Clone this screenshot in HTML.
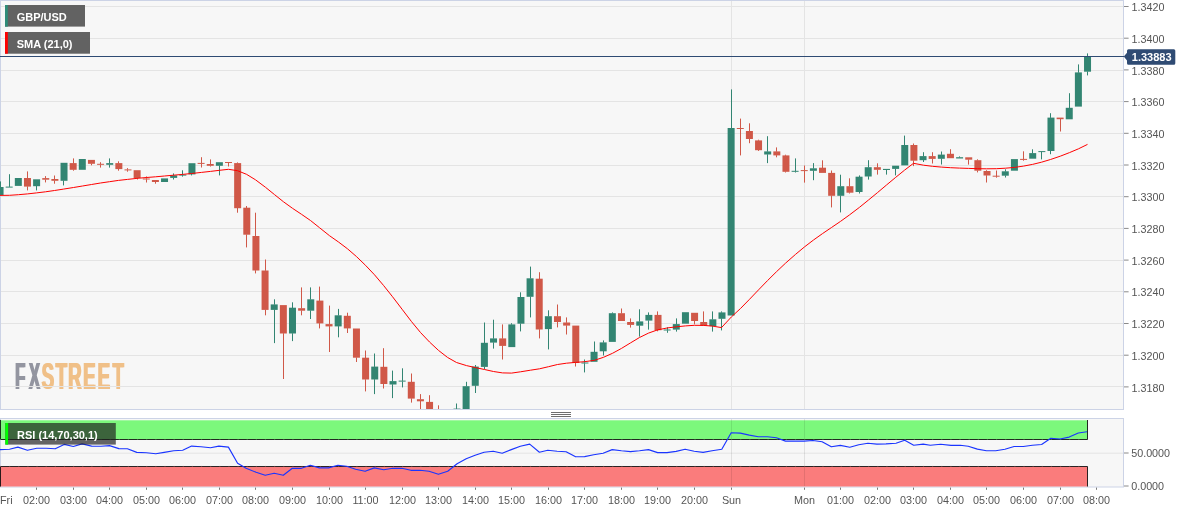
<!DOCTYPE html>
<html lang="en"><head><meta charset="utf-8"><title>GBP/USD chart</title>
<style>html,body{margin:0;padding:0;background:#fff;overflow:hidden}body{width:1194px;height:513px}</style></head>
<body>
<svg width="1194" height="513" viewBox="0 0 1194 513" style="display:block;font-family:'Liberation Sans', Arial, sans-serif">
<defs><clipPath id="cm"><rect x="0" y="1" width="1123" height="408"/></clipPath><clipPath id="cr"><rect x="0" y="419" width="1123" height="68"/></clipPath></defs>
<rect width="1194" height="513" fill="#ffffff"/>
<rect x="0.5" y="0.5" width="1123" height="409" fill="#f7f7f7" stroke="#ccd3e6" stroke-width="1"/>
<g font-weight="bold" font-size="37.8" opacity="0.96"><text transform="translate(-0.62,389.2) scale(0.445,1)" x="33.98 64.87" y="0" fill="#8f929d">FX</text><text transform="translate(0.62,389.2) scale(0.445,1)" x="33.98 64.87" y="0" fill="#8f929d">FX</text><text transform="translate(-0.62,389.2) scale(0.497,1)" x="83.97 112.09 137.08 167.35 196.22 226.37" y="0" fill="#f0be84">STREET</text><text transform="translate(0.62,389.2) scale(0.497,1)" x="83.97 112.09 137.08 167.35 196.22 226.37" y="0" fill="#f0be84">STREET</text></g>
<line x1="1" x2="1123" y1="6.5" y2="6.5" stroke="#e4e4e4" stroke-width="1"/>
<line x1="1" x2="1123" y1="38.5" y2="38.5" stroke="#e4e4e4" stroke-width="1"/>
<line x1="1" x2="1123" y1="70.5" y2="70.5" stroke="#e4e4e4" stroke-width="1"/>
<line x1="1" x2="1123" y1="101.5" y2="101.5" stroke="#e4e4e4" stroke-width="1"/>
<line x1="1" x2="1123" y1="133.5" y2="133.5" stroke="#e4e4e4" stroke-width="1"/>
<line x1="1" x2="1123" y1="165.5" y2="165.5" stroke="#e4e4e4" stroke-width="1"/>
<line x1="1" x2="1123" y1="196.5" y2="196.5" stroke="#e4e4e4" stroke-width="1"/>
<line x1="1" x2="1123" y1="228.5" y2="228.5" stroke="#e4e4e4" stroke-width="1"/>
<line x1="1" x2="1123" y1="260.5" y2="260.5" stroke="#e4e4e4" stroke-width="1"/>
<line x1="1" x2="1123" y1="291.5" y2="291.5" stroke="#e4e4e4" stroke-width="1"/>
<line x1="1" x2="1123" y1="323.5" y2="323.5" stroke="#e4e4e4" stroke-width="1"/>
<line x1="1" x2="1123" y1="355.5" y2="355.5" stroke="#e4e4e4" stroke-width="1"/>
<line x1="1" x2="1123" y1="386.5" y2="386.5" stroke="#e4e4e4" stroke-width="1"/>
<line x1="731.5" x2="731.5" y1="1" y2="409" stroke="#e4e4e4" stroke-width="1"/>
<line x1="804.5" x2="804.5" y1="1" y2="409" stroke="#e4e4e4" stroke-width="1"/>
<g clip-path="url(#cm)">
<rect x="0.0" y="181.4" width="1" height="5.9" fill="#328572"/>
<rect x="-3.45" y="187.0" width="7" height="8.0" fill="#328572"/>
<rect x="9.0" y="174.2" width="1" height="12.7" fill="#328572"/>
<rect x="5.69" y="186.6" width="7" height="1.0" fill="#328572"/>
<rect x="14.83" y="178.0" width="7" height="7.9" fill="#328572"/>
<rect x="27.0" y="171.4" width="1" height="6.9" fill="#d05848"/>
<rect x="27.0" y="186.3" width="1" height="4.1" fill="#d05848"/>
<rect x="23.97" y="178.0" width="7" height="8.6" fill="#d05848"/>
<rect x="36.0" y="185.9" width="1" height="4.5" fill="#328572"/>
<rect x="33.10" y="179.3" width="7" height="6.9" fill="#328572"/>
<rect x="45.0" y="176.1" width="1" height="2.3" fill="#d05848"/>
<rect x="45.0" y="179.4" width="1" height="3.0" fill="#d05848"/>
<rect x="42.24" y="178.1" width="7" height="1.6" fill="#d05848"/>
<rect x="54.0" y="175.5" width="1" height="3.8" fill="#d05848"/>
<rect x="54.0" y="180.5" width="1" height="3.2" fill="#d05848"/>
<rect x="51.38" y="179.0" width="7" height="1.8" fill="#d05848"/>
<rect x="63.0" y="180.5" width="1" height="4.9" fill="#328572"/>
<rect x="60.52" y="162.8" width="7" height="18.0" fill="#328572"/>
<rect x="73.0" y="158.4" width="1" height="5.0" fill="#d05848"/>
<rect x="73.0" y="169.5" width="1" height="1.2" fill="#d05848"/>
<rect x="69.66" y="163.1" width="7" height="6.7" fill="#d05848"/>
<rect x="78.80" y="159.0" width="7" height="10.8" fill="#328572"/>
<rect x="91.0" y="163.5" width="1" height="1.8" fill="#d05848"/>
<rect x="87.94" y="159.9" width="7" height="3.9" fill="#d05848"/>
<rect x="100.0" y="162.2" width="1" height="1.9" fill="#d05848"/>
<rect x="100.0" y="164.5" width="1" height="3.1" fill="#d05848"/>
<rect x="97.07" y="163.8" width="7" height="1.0" fill="#d05848"/>
<rect x="109.0" y="158.4" width="1" height="5.0" fill="#328572"/>
<rect x="109.0" y="164.5" width="1" height="3.1" fill="#328572"/>
<rect x="106.21" y="163.1" width="7" height="1.7" fill="#328572"/>
<rect x="118.0" y="161.3" width="1" height="2.1" fill="#d05848"/>
<rect x="118.0" y="168.8" width="1" height="1.9" fill="#d05848"/>
<rect x="115.35" y="163.1" width="7" height="6.0" fill="#d05848"/>
<rect x="127.0" y="168.1" width="1" height="1.6" fill="#d05848"/>
<rect x="127.0" y="170.1" width="1" height="1.6" fill="#d05848"/>
<rect x="124.49" y="169.4" width="7" height="1.0" fill="#d05848"/>
<rect x="137.0" y="177.7" width="1" height="1.8" fill="#d05848"/>
<rect x="133.63" y="170.2" width="7" height="7.8" fill="#d05848"/>
<rect x="146.0" y="176.4" width="1" height="2.4" fill="#d05848"/>
<rect x="146.0" y="179.2" width="1" height="3.3" fill="#d05848"/>
<rect x="142.77" y="178.5" width="7" height="1.0" fill="#d05848"/>
<rect x="155.0" y="181.7" width="1" height="2.0" fill="#d05848"/>
<rect x="151.90" y="180.0" width="7" height="2.0" fill="#d05848"/>
<rect x="161.04" y="178.4" width="7" height="3.6" fill="#328572"/>
<rect x="173.0" y="173.4" width="1" height="2.3" fill="#328572"/>
<rect x="173.0" y="177.6" width="1" height="1.9" fill="#328572"/>
<rect x="170.18" y="175.4" width="7" height="2.5" fill="#328572"/>
<rect x="182.0" y="170.3" width="1" height="4.6" fill="#328572"/>
<rect x="182.0" y="175.2" width="1" height="1.4" fill="#328572"/>
<rect x="179.32" y="174.6" width="7" height="1.0" fill="#328572"/>
<rect x="191.0" y="174.1" width="1" height="1.3" fill="#328572"/>
<rect x="188.46" y="163.2" width="7" height="11.2" fill="#328572"/>
<rect x="201.0" y="157.2" width="1" height="6.0" fill="#d05848"/>
<rect x="201.0" y="163.6" width="1" height="3.9" fill="#d05848"/>
<rect x="197.60" y="162.9" width="7" height="1.0" fill="#d05848"/>
<rect x="210.0" y="159.4" width="1" height="4.9" fill="#d05848"/>
<rect x="210.0" y="165.5" width="1" height="1.0" fill="#d05848"/>
<rect x="206.74" y="164.0" width="7" height="1.8" fill="#d05848"/>
<rect x="219.0" y="165.5" width="1" height="9.9" fill="#328572"/>
<rect x="215.87" y="162.2" width="7" height="3.6" fill="#328572"/>
<rect x="228.0" y="162.7" width="1" height="3.8" fill="#d05848"/>
<rect x="225.01" y="162.0" width="7" height="1.0" fill="#d05848"/>
<rect x="237.0" y="162.4" width="1" height="1.0" fill="#d05848"/>
<rect x="237.0" y="207.9" width="1" height="4.8" fill="#d05848"/>
<rect x="234.15" y="163.1" width="7" height="45.1" fill="#d05848"/>
<rect x="246.0" y="206.0" width="1" height="2.0" fill="#d05848"/>
<rect x="246.0" y="234.4" width="1" height="13.0" fill="#d05848"/>
<rect x="243.29" y="207.7" width="7" height="27.0" fill="#d05848"/>
<rect x="255.0" y="212.7" width="1" height="23.6" fill="#d05848"/>
<rect x="255.0" y="270.2" width="1" height="3.2" fill="#d05848"/>
<rect x="252.43" y="236.0" width="7" height="34.5" fill="#d05848"/>
<rect x="265.0" y="259.5" width="1" height="11.3" fill="#d05848"/>
<rect x="265.0" y="309.6" width="1" height="5.7" fill="#d05848"/>
<rect x="261.57" y="270.5" width="7" height="39.4" fill="#d05848"/>
<rect x="274.0" y="299.3" width="1" height="5.4" fill="#328572"/>
<rect x="274.0" y="309.6" width="1" height="33.5" fill="#328572"/>
<rect x="270.71" y="304.4" width="7" height="5.5" fill="#328572"/>
<rect x="283.0" y="333.2" width="1" height="45.8" fill="#d05848"/>
<rect x="279.84" y="305.1" width="7" height="28.4" fill="#d05848"/>
<rect x="292.0" y="302.3" width="1" height="5.7" fill="#328572"/>
<rect x="292.0" y="333.2" width="1" height="7.9" fill="#328572"/>
<rect x="288.98" y="307.7" width="7" height="25.8" fill="#328572"/>
<rect x="301.0" y="287.4" width="1" height="21.1" fill="#d05848"/>
<rect x="301.0" y="310.4" width="1" height="4.9" fill="#d05848"/>
<rect x="298.12" y="308.2" width="7" height="2.5" fill="#d05848"/>
<rect x="310.0" y="287.4" width="1" height="12.2" fill="#328572"/>
<rect x="310.0" y="310.4" width="1" height="8.6" fill="#328572"/>
<rect x="307.26" y="299.3" width="7" height="11.4" fill="#328572"/>
<rect x="319.0" y="286.6" width="1" height="14.3" fill="#d05848"/>
<rect x="319.0" y="323.1" width="1" height="5.3" fill="#d05848"/>
<rect x="316.40" y="300.6" width="7" height="22.8" fill="#d05848"/>
<rect x="329.0" y="305.6" width="1" height="18.8" fill="#d05848"/>
<rect x="329.0" y="326.1" width="1" height="25.9" fill="#d05848"/>
<rect x="325.54" y="324.1" width="7" height="2.3" fill="#d05848"/>
<rect x="338.0" y="308.9" width="1" height="6.7" fill="#328572"/>
<rect x="338.0" y="326.1" width="1" height="11.2" fill="#328572"/>
<rect x="334.67" y="315.3" width="7" height="11.1" fill="#328572"/>
<rect x="347.0" y="312.7" width="1" height="3.4" fill="#d05848"/>
<rect x="347.0" y="328.1" width="1" height="4.9" fill="#d05848"/>
<rect x="343.81" y="315.8" width="7" height="12.6" fill="#d05848"/>
<rect x="356.0" y="357.4" width="1" height="4.6" fill="#d05848"/>
<rect x="352.95" y="328.5" width="7" height="29.2" fill="#d05848"/>
<rect x="365.0" y="350.5" width="1" height="7.5" fill="#d05848"/>
<rect x="365.0" y="379.2" width="1" height="12.2" fill="#d05848"/>
<rect x="362.09" y="357.7" width="7" height="21.8" fill="#d05848"/>
<rect x="374.0" y="353.5" width="1" height="13.4" fill="#328572"/>
<rect x="374.0" y="379.2" width="1" height="14.9" fill="#328572"/>
<rect x="371.23" y="366.6" width="7" height="12.9" fill="#328572"/>
<rect x="383.0" y="348.2" width="1" height="18.9" fill="#d05848"/>
<rect x="383.0" y="383.7" width="1" height="4.8" fill="#d05848"/>
<rect x="380.37" y="366.8" width="7" height="17.2" fill="#d05848"/>
<rect x="392.0" y="370.6" width="1" height="10.8" fill="#328572"/>
<rect x="392.0" y="384.2" width="1" height="13.9" fill="#328572"/>
<rect x="389.51" y="381.1" width="7" height="3.4" fill="#328572"/>
<rect x="402.0" y="368.3" width="1" height="12.6" fill="#328572"/>
<rect x="402.0" y="381.3" width="1" height="6.1" fill="#328572"/>
<rect x="398.64" y="380.6" width="7" height="1.0" fill="#328572"/>
<rect x="411.0" y="373.5" width="1" height="8.6" fill="#d05848"/>
<rect x="411.0" y="398.3" width="1" height="4.3" fill="#d05848"/>
<rect x="407.78" y="381.8" width="7" height="16.8" fill="#d05848"/>
<rect x="420.0" y="394.1" width="1" height="5.4" fill="#d05848"/>
<rect x="420.0" y="401.0" width="1" height="13.0" fill="#d05848"/>
<rect x="416.92" y="399.2" width="7" height="2.1" fill="#d05848"/>
<rect x="429.0" y="395.2" width="1" height="7.0" fill="#d05848"/>
<rect x="426.06" y="401.9" width="7" height="18.1" fill="#d05848"/>
<rect x="438.0" y="405.3" width="1" height="6.0" fill="#d05848"/>
<rect x="435.20" y="411.0" width="7" height="9.0" fill="#d05848"/>
<rect x="456.0" y="403.5" width="1" height="5.4" fill="#328572"/>
<rect x="453.48" y="408.6" width="7" height="6.4" fill="#328572"/>
<rect x="466.0" y="381.8" width="1" height="4.7" fill="#328572"/>
<rect x="462.61" y="386.2" width="7" height="25.8" fill="#328572"/>
<rect x="475.0" y="365.0" width="1" height="1.9" fill="#328572"/>
<rect x="475.0" y="385.5" width="1" height="7.5" fill="#328572"/>
<rect x="471.75" y="366.6" width="7" height="19.2" fill="#328572"/>
<rect x="484.0" y="322.5" width="1" height="20.6" fill="#328572"/>
<rect x="484.0" y="366.6" width="1" height="2.6" fill="#328572"/>
<rect x="480.89" y="342.8" width="7" height="24.1" fill="#328572"/>
<rect x="493.0" y="319.7" width="1" height="19.0" fill="#328572"/>
<rect x="493.0" y="342.3" width="1" height="6.3" fill="#328572"/>
<rect x="490.03" y="338.4" width="7" height="4.2" fill="#328572"/>
<rect x="502.0" y="324.4" width="1" height="14.3" fill="#d05848"/>
<rect x="502.0" y="345.6" width="1" height="13.9" fill="#d05848"/>
<rect x="499.17" y="338.4" width="7" height="7.5" fill="#d05848"/>
<rect x="511.0" y="323.2" width="1" height="1.5" fill="#328572"/>
<rect x="508.31" y="324.4" width="7" height="22.7" fill="#328572"/>
<rect x="520.0" y="292.3" width="1" height="5.0" fill="#328572"/>
<rect x="520.0" y="323.4" width="1" height="8.0" fill="#328572"/>
<rect x="517.44" y="297.0" width="7" height="26.7" fill="#328572"/>
<rect x="530.0" y="266.6" width="1" height="12.0" fill="#328572"/>
<rect x="530.0" y="296.5" width="1" height="20.9" fill="#328572"/>
<rect x="526.58" y="278.3" width="7" height="18.5" fill="#328572"/>
<rect x="539.0" y="272.2" width="1" height="6.8" fill="#d05848"/>
<rect x="539.0" y="329.2" width="1" height="9.2" fill="#d05848"/>
<rect x="535.72" y="278.7" width="7" height="50.8" fill="#d05848"/>
<rect x="548.0" y="310.3" width="1" height="6.2" fill="#328572"/>
<rect x="548.0" y="328.8" width="1" height="20.6" fill="#328572"/>
<rect x="544.86" y="316.2" width="7" height="12.9" fill="#328572"/>
<rect x="557.0" y="304.5" width="1" height="12.0" fill="#d05848"/>
<rect x="557.0" y="321.7" width="1" height="5.7" fill="#d05848"/>
<rect x="554.00" y="316.2" width="7" height="5.8" fill="#d05848"/>
<rect x="566.0" y="317.4" width="1" height="5.4" fill="#d05848"/>
<rect x="566.0" y="325.3" width="1" height="9.2" fill="#d05848"/>
<rect x="563.14" y="322.5" width="7" height="3.1" fill="#d05848"/>
<rect x="575.0" y="362.7" width="1" height="3.8" fill="#d05848"/>
<rect x="572.28" y="325.6" width="7" height="37.4" fill="#d05848"/>
<rect x="584.0" y="359.5" width="1" height="3.3" fill="#328572"/>
<rect x="584.0" y="363.2" width="1" height="9.2" fill="#328572"/>
<rect x="581.41" y="362.5" width="7" height="1.0" fill="#328572"/>
<rect x="594.0" y="341.5" width="1" height="10.6" fill="#328572"/>
<rect x="590.55" y="351.8" width="7" height="10.0" fill="#328572"/>
<rect x="603.0" y="340.4" width="1" height="2.3" fill="#328572"/>
<rect x="603.0" y="351.0" width="1" height="4.5" fill="#328572"/>
<rect x="599.69" y="342.4" width="7" height="8.9" fill="#328572"/>
<rect x="612.0" y="312.4" width="1" height="1.1" fill="#328572"/>
<rect x="608.83" y="313.2" width="7" height="28.7" fill="#328572"/>
<rect x="621.0" y="308.5" width="1" height="5.0" fill="#d05848"/>
<rect x="617.97" y="313.2" width="7" height="7.8" fill="#d05848"/>
<rect x="630.0" y="318.4" width="1" height="3.9" fill="#d05848"/>
<rect x="630.0" y="324.6" width="1" height="3.0" fill="#d05848"/>
<rect x="627.11" y="322.0" width="7" height="2.9" fill="#d05848"/>
<rect x="639.0" y="309.3" width="1" height="12.4" fill="#328572"/>
<rect x="639.0" y="325.4" width="1" height="11.2" fill="#328572"/>
<rect x="636.25" y="321.4" width="7" height="4.3" fill="#328572"/>
<rect x="648.0" y="312.4" width="1" height="2.8" fill="#328572"/>
<rect x="648.0" y="320.3" width="1" height="9.3" fill="#328572"/>
<rect x="645.38" y="314.9" width="7" height="5.7" fill="#328572"/>
<rect x="657.0" y="311.4" width="1" height="3.8" fill="#d05848"/>
<rect x="657.0" y="329.9" width="1" height="1.4" fill="#d05848"/>
<rect x="654.52" y="314.9" width="7" height="15.3" fill="#d05848"/>
<rect x="667.0" y="327.2" width="1" height="2.6" fill="#328572"/>
<rect x="667.0" y="330.2" width="1" height="2.6" fill="#328572"/>
<rect x="663.66" y="329.5" width="7" height="1.0" fill="#328572"/>
<rect x="676.0" y="318.4" width="1" height="6.0" fill="#328572"/>
<rect x="676.0" y="329.3" width="1" height="2.3" fill="#328572"/>
<rect x="672.80" y="324.1" width="7" height="5.5" fill="#328572"/>
<rect x="681.94" y="312.2" width="7" height="11.5" fill="#328572"/>
<rect x="694.0" y="320.7" width="1" height="3.6" fill="#d05848"/>
<rect x="691.08" y="312.8" width="7" height="8.2" fill="#d05848"/>
<rect x="703.0" y="311.4" width="1" height="10.9" fill="#d05848"/>
<rect x="700.21" y="322.0" width="7" height="3.7" fill="#d05848"/>
<rect x="712.0" y="311.4" width="1" height="8.2" fill="#328572"/>
<rect x="712.0" y="325.8" width="1" height="5.8" fill="#328572"/>
<rect x="709.35" y="319.3" width="7" height="6.8" fill="#328572"/>
<rect x="721.0" y="311.4" width="1" height="1.3" fill="#328572"/>
<rect x="721.0" y="318.5" width="1" height="11.9" fill="#328572"/>
<rect x="718.49" y="312.4" width="7" height="6.4" fill="#328572"/>
<rect x="731.0" y="89.4" width="1" height="38.9" fill="#328572"/>
<rect x="727.63" y="128.0" width="7" height="187.5" fill="#328572"/>
<rect x="740.0" y="118.6" width="1" height="9.7" fill="#d05848"/>
<rect x="740.0" y="128.7" width="1" height="26.7" fill="#d05848"/>
<rect x="736.77" y="128.0" width="7" height="1.0" fill="#d05848"/>
<rect x="749.0" y="123.3" width="1" height="8.0" fill="#d05848"/>
<rect x="749.0" y="138.7" width="1" height="4.5" fill="#d05848"/>
<rect x="745.91" y="131.0" width="7" height="8.0" fill="#d05848"/>
<rect x="758.0" y="139.7" width="1" height="1.0" fill="#d05848"/>
<rect x="758.0" y="149.9" width="1" height="1.0" fill="#d05848"/>
<rect x="755.05" y="140.4" width="7" height="9.8" fill="#d05848"/>
<rect x="767.0" y="136.2" width="1" height="15.5" fill="#328572"/>
<rect x="767.0" y="154.2" width="1" height="8.9" fill="#328572"/>
<rect x="764.18" y="151.4" width="7" height="3.1" fill="#328572"/>
<rect x="776.0" y="147.4" width="1" height="4.3" fill="#d05848"/>
<rect x="776.0" y="155.1" width="1" height="2.2" fill="#d05848"/>
<rect x="773.32" y="151.4" width="7" height="4.0" fill="#d05848"/>
<rect x="785.0" y="154.7" width="1" height="1.0" fill="#d05848"/>
<rect x="785.0" y="171.5" width="1" height="1.0" fill="#d05848"/>
<rect x="782.46" y="155.4" width="7" height="16.4" fill="#d05848"/>
<rect x="795.0" y="158.4" width="1" height="12.7" fill="#328572"/>
<rect x="795.0" y="171.5" width="1" height="1.0" fill="#328572"/>
<rect x="791.60" y="170.8" width="7" height="1.0" fill="#328572"/>
<rect x="804.0" y="165.5" width="1" height="4.9" fill="#d05848"/>
<rect x="804.0" y="170.8" width="1" height="11.8" fill="#d05848"/>
<rect x="800.74" y="170.1" width="7" height="1.0" fill="#d05848"/>
<rect x="813.0" y="163.1" width="1" height="5.5" fill="#328572"/>
<rect x="813.0" y="170.5" width="1" height="9.7" fill="#328572"/>
<rect x="809.88" y="168.3" width="7" height="2.5" fill="#328572"/>
<rect x="822.0" y="160.3" width="1" height="7.7" fill="#d05848"/>
<rect x="819.01" y="167.7" width="7" height="5.2" fill="#d05848"/>
<rect x="831.0" y="170.5" width="1" height="2.7" fill="#d05848"/>
<rect x="831.0" y="195.5" width="1" height="11.9" fill="#d05848"/>
<rect x="828.15" y="172.9" width="7" height="22.9" fill="#d05848"/>
<rect x="840.0" y="174.7" width="1" height="11.8" fill="#328572"/>
<rect x="840.0" y="195.5" width="1" height="16.9" fill="#328572"/>
<rect x="837.29" y="186.2" width="7" height="9.6" fill="#328572"/>
<rect x="849.0" y="178.3" width="1" height="8.2" fill="#d05848"/>
<rect x="849.0" y="192.4" width="1" height="1.1" fill="#d05848"/>
<rect x="846.43" y="186.2" width="7" height="6.5" fill="#d05848"/>
<rect x="859.0" y="175.4" width="1" height="1.6" fill="#328572"/>
<rect x="859.0" y="191.7" width="1" height="1.8" fill="#328572"/>
<rect x="855.57" y="176.7" width="7" height="15.3" fill="#328572"/>
<rect x="868.0" y="160.2" width="1" height="7.3" fill="#328572"/>
<rect x="868.0" y="176.2" width="1" height="3.4" fill="#328572"/>
<rect x="864.71" y="167.2" width="7" height="9.3" fill="#328572"/>
<rect x="877.0" y="163.3" width="1" height="4.2" fill="#d05848"/>
<rect x="877.0" y="169.5" width="1" height="5.1" fill="#d05848"/>
<rect x="873.85" y="167.2" width="7" height="2.6" fill="#d05848"/>
<rect x="886.0" y="169.7" width="1" height="4.9" fill="#328572"/>
<rect x="882.98" y="168.9" width="7" height="1.1" fill="#328572"/>
<rect x="895.0" y="168.6" width="1" height="6.8" fill="#328572"/>
<rect x="892.12" y="165.7" width="7" height="3.2" fill="#328572"/>
<rect x="904.0" y="135.6" width="1" height="9.7" fill="#328572"/>
<rect x="901.26" y="145.0" width="7" height="20.4" fill="#328572"/>
<rect x="913.0" y="143.5" width="1" height="1.8" fill="#d05848"/>
<rect x="913.0" y="160.4" width="1" height="5.7" fill="#d05848"/>
<rect x="910.40" y="145.0" width="7" height="15.7" fill="#d05848"/>
<rect x="923.0" y="152.2" width="1" height="4.2" fill="#328572"/>
<rect x="923.0" y="159.9" width="1" height="2.1" fill="#328572"/>
<rect x="919.54" y="156.1" width="7" height="4.1" fill="#328572"/>
<rect x="932.0" y="152.2" width="1" height="4.2" fill="#d05848"/>
<rect x="932.0" y="158.6" width="1" height="4.9" fill="#d05848"/>
<rect x="928.68" y="156.1" width="7" height="2.8" fill="#d05848"/>
<rect x="941.0" y="151.5" width="1" height="3.4" fill="#328572"/>
<rect x="941.0" y="158.5" width="1" height="6.0" fill="#328572"/>
<rect x="937.82" y="154.6" width="7" height="4.2" fill="#328572"/>
<rect x="950.0" y="149.2" width="1" height="4.9" fill="#d05848"/>
<rect x="946.95" y="153.8" width="7" height="4.4" fill="#d05848"/>
<rect x="959.0" y="156.4" width="1" height="1.1" fill="#328572"/>
<rect x="956.09" y="157.2" width="7" height="1.3" fill="#328572"/>
<rect x="968.0" y="159.4" width="1" height="5.2" fill="#d05848"/>
<rect x="965.23" y="157.3" width="7" height="2.4" fill="#d05848"/>
<rect x="977.0" y="159.3" width="1" height="1.2" fill="#d05848"/>
<rect x="977.0" y="170.4" width="1" height="2.0" fill="#d05848"/>
<rect x="974.37" y="160.2" width="7" height="10.5" fill="#d05848"/>
<rect x="986.0" y="170.2" width="1" height="1.1" fill="#d05848"/>
<rect x="986.0" y="175.2" width="1" height="7.3" fill="#d05848"/>
<rect x="983.51" y="171.0" width="7" height="4.5" fill="#d05848"/>
<rect x="996.0" y="170.5" width="1" height="5.5" fill="#d05848"/>
<rect x="996.0" y="176.2" width="1" height="1.5" fill="#d05848"/>
<rect x="992.65" y="175.7" width="7" height="1.0" fill="#d05848"/>
<rect x="1005.0" y="169.3" width="1" height="2.3" fill="#328572"/>
<rect x="1005.0" y="175.4" width="1" height="2.1" fill="#328572"/>
<rect x="1001.78" y="171.3" width="7" height="4.4" fill="#328572"/>
<rect x="1010.92" y="159.1" width="7" height="11.6" fill="#328572"/>
<rect x="1023.0" y="151.3" width="1" height="7.9" fill="#d05848"/>
<rect x="1023.0" y="159.5" width="1" height="1.2" fill="#d05848"/>
<rect x="1020.06" y="158.9" width="7" height="1.0" fill="#d05848"/>
<rect x="1032.0" y="149.3" width="1" height="4.1" fill="#328572"/>
<rect x="1029.20" y="153.1" width="7" height="5.6" fill="#328572"/>
<rect x="1041.0" y="151.7" width="1" height="7.7" fill="#328572"/>
<rect x="1038.34" y="151.1" width="7" height="1.0" fill="#328572"/>
<rect x="1050.0" y="113.2" width="1" height="4.7" fill="#328572"/>
<rect x="1050.0" y="150.7" width="1" height="3.5" fill="#328572"/>
<rect x="1047.48" y="117.6" width="7" height="33.4" fill="#328572"/>
<rect x="1060.0" y="118.9" width="1" height="12.6" fill="#d05848"/>
<rect x="1056.62" y="117.6" width="7" height="1.6" fill="#d05848"/>
<rect x="1069.0" y="93.2" width="1" height="14.9" fill="#328572"/>
<rect x="1065.75" y="107.8" width="7" height="11.5" fill="#328572"/>
<rect x="1078.0" y="64.4" width="1" height="8.3" fill="#328572"/>
<rect x="1074.89" y="72.4" width="7" height="34.2" fill="#328572"/>
<rect x="1087.0" y="53.4" width="1" height="3.5" fill="#328572"/>
<rect x="1087.0" y="71.4" width="1" height="4.0" fill="#328572"/>
<rect x="1084.03" y="56.6" width="7" height="15.1" fill="#328572"/>
<polyline points="0.0,195.4 9.5,195.3 18.5,194.7 27.5,193.9 36.5,192.9 45.5,191.8 54.5,190.5 63.5,189.1 73.5,187.5 82.5,186.0 91.5,184.5 100.5,183.0 109.5,181.7 118.5,180.4 127.5,179.4 137.5,178.3 146.5,177.5 155.5,176.8 164.5,176.0 173.5,175.2 182.5,174.4 191.5,173.5 201.5,172.4 210.5,171.4 219.5,170.3 228.5,169.3 237.5,170.7 246.5,174.3 255.5,179.8 265.5,187.3 274.5,194.6 283.5,201.8 292.5,208.3 301.5,214.3 310.5,220.5 319.5,227.7 329.5,235.7 338.5,242.0 347.5,248.8 356.5,256.6 365.5,265.3 374.5,274.8 383.5,285.4 392.5,296.7 402.5,309.8 411.5,321.6 420.5,332.5 429.5,342.0 438.5,350.4 447.5,357.4 456.5,362.5 466.5,365.6 475.5,367.6 484.5,369.5 493.5,371.5 502.5,372.9 511.5,373.1 520.5,371.8 530.5,370.2 539.5,368.8 548.5,366.7 557.5,364.5 566.5,363.2 575.5,362.4 584.5,361.7 594.5,360.3 603.5,357.3 612.5,353.3 621.5,348.4 630.5,342.9 639.5,337.5 648.5,333.1 657.5,329.9 667.5,327.9 676.5,326.8 685.5,325.9 694.5,325.3 703.5,325.4 712.5,326.1 721.5,327.6 731.5,316.8 740.5,308.5 749.5,299.3 758.5,289.9 767.5,280.6 776.5,271.7 785.5,263.2 795.5,254.4 804.5,246.9 813.5,240.0 822.5,233.6 831.5,227.5 840.5,221.4 849.5,214.9 859.5,207.3 868.5,200.0 877.5,192.6 886.5,185.0 895.5,177.5 904.5,170.2 913.5,163.3 923.5,165.2 932.5,166.3 941.5,167.1 950.5,167.7 959.5,168.1 968.5,168.4 977.5,168.7 986.5,168.8 996.5,168.7 1005.5,168.2 1014.5,167.4 1023.5,166.1 1032.5,164.4 1041.5,162.2 1050.5,159.5 1060.5,156.1 1069.5,152.6 1078.5,148.8 1087.5,144.4" fill="none" stroke="#ff0000" stroke-width="1" stroke-linejoin="round"/>
</g>
<line x1="0" x2="1124" y1="56.5" y2="56.5" stroke="#2f4b73" stroke-width="1"/>
<rect x="5" y="5" width="80" height="21.6" fill="#5a5a5a" fill-opacity="0.95"/>
<rect x="5" y="5" width="2.8" height="21.6" fill="#2f8c78"/>
<text x="16.7" y="20.6" font-size="11" font-weight="bold" fill="#ffffff">GBP/USD</text>
<rect x="5" y="32" width="85" height="21.7" fill="#5a5a5a" fill-opacity="0.95"/>
<rect x="5" y="32" width="2.8" height="21.7" fill="#ff0000"/>
<text x="16.7" y="47.6" font-size="11" font-weight="bold" fill="#ffffff">SMA (21,0)</text>
<line x1="1124" x2="1128.6" y1="6.5" y2="6.5" stroke="#8a8a8a" stroke-width="1"/>
<text x="1131.6" y="11.1" font-size="10.75" fill="#555555">1.3420</text>
<line x1="1124" x2="1128.6" y1="38.2" y2="38.2" stroke="#8a8a8a" stroke-width="1"/>
<text x="1131.6" y="42.8" font-size="10.75" fill="#555555">1.3400</text>
<line x1="1124" x2="1128.6" y1="69.9" y2="69.9" stroke="#8a8a8a" stroke-width="1"/>
<text x="1131.6" y="74.5" font-size="10.75" fill="#555555">1.3380</text>
<line x1="1124" x2="1128.6" y1="101.6" y2="101.6" stroke="#8a8a8a" stroke-width="1"/>
<text x="1131.6" y="106.2" font-size="10.75" fill="#555555">1.3360</text>
<line x1="1124" x2="1128.6" y1="133.3" y2="133.3" stroke="#8a8a8a" stroke-width="1"/>
<text x="1131.6" y="137.9" font-size="10.75" fill="#555555">1.3340</text>
<line x1="1124" x2="1128.6" y1="165.0" y2="165.0" stroke="#8a8a8a" stroke-width="1"/>
<text x="1131.6" y="169.6" font-size="10.75" fill="#555555">1.3320</text>
<line x1="1124" x2="1128.6" y1="196.7" y2="196.7" stroke="#8a8a8a" stroke-width="1"/>
<text x="1131.6" y="201.3" font-size="10.75" fill="#555555">1.3300</text>
<line x1="1124" x2="1128.6" y1="228.4" y2="228.4" stroke="#8a8a8a" stroke-width="1"/>
<text x="1131.6" y="233.0" font-size="10.75" fill="#555555">1.3280</text>
<line x1="1124" x2="1128.6" y1="260.1" y2="260.1" stroke="#8a8a8a" stroke-width="1"/>
<text x="1131.6" y="264.7" font-size="10.75" fill="#555555">1.3260</text>
<line x1="1124" x2="1128.6" y1="291.8" y2="291.8" stroke="#8a8a8a" stroke-width="1"/>
<text x="1131.6" y="296.4" font-size="10.75" fill="#555555">1.3240</text>
<line x1="1124" x2="1128.6" y1="323.5" y2="323.5" stroke="#8a8a8a" stroke-width="1"/>
<text x="1131.6" y="328.1" font-size="10.75" fill="#555555">1.3220</text>
<line x1="1124" x2="1128.6" y1="355.2" y2="355.2" stroke="#8a8a8a" stroke-width="1"/>
<text x="1131.6" y="359.8" font-size="10.75" fill="#555555">1.3200</text>
<line x1="1124" x2="1128.6" y1="386.9" y2="386.9" stroke="#8a8a8a" stroke-width="1"/>
<text x="1131.6" y="391.5" font-size="10.75" fill="#555555">1.3180</text>
<path d="M1123.8 56.6 L1127 52.8 L1127 50.8 Q1127 49.3 1128.5 49.3 L1173.8 49.3 Q1175.3 49.3 1175.3 50.8 L1175.3 63.2 Q1175.3 64.7 1173.8 64.7 L1128.5 64.7 Q1127 64.7 1127 63.2 L1127 60.4 Z" fill="#2f4b73"/>
<text x="1131.8" y="60.6" font-size="11" font-weight="bold" fill="#ffffff">1.33883</text>
<line x1="551" x2="571" y1="412.5" y2="412.5" stroke="#6e6e6e" stroke-width="1"/>
<line x1="551" x2="571" y1="414.5" y2="414.5" stroke="#6e6e6e" stroke-width="1"/>
<line x1="551" x2="571" y1="416.5" y2="416.5" stroke="#6e6e6e" stroke-width="1"/>
<rect x="0.5" y="418.5" width="1123" height="68.5" fill="#f7f7f7" stroke="#ccd3e6" stroke-width="1"/>
<line x1="1" x2="1123" y1="453.2" y2="453.2" stroke="#e4e4e4" stroke-width="1"/>
<rect x="0" y="420.3" width="1087.5" height="19.2" fill="#7cf87c"/>
<rect x="0" y="466.6" width="1087.5" height="19.9" fill="#fa7c7c"/>
<line x1="731.5" x2="731.5" y1="419" y2="486" stroke="#000" stroke-opacity="0.09" stroke-width="1"/>
<line x1="804.5" x2="804.5" y1="419" y2="486" stroke="#000" stroke-opacity="0.09" stroke-width="1"/>
<path d="M0.5 420 V439.5 H1087.5 V420" fill="none" stroke="#0c0c0c" stroke-width="0.88"/>
<path d="M0.5 486.5 V466.5 H1087.5 V486.5" fill="none" stroke="#0c0c0c" stroke-width="0.88"/>
<line x1="-0.1" x2="1087" y1="439.3" y2="439.3" stroke="#7cf87c" stroke-opacity="0.5" stroke-width="0.7" stroke-dasharray="1.2 7.9385"/>
<line x1="-0.1" x2="1087" y1="466.3" y2="466.3" stroke="#fa7c7c" stroke-opacity="0.5" stroke-width="0.7" stroke-dasharray="1.2 7.9385"/>
<polyline points="0.0,449.6 9.5,449.2 17.9,447.1 27.4,450.3 36.8,448.2 46.3,448.2 55.2,448.8 64.2,444.4 73.3,446.5 82.1,443.9 91.6,446.1 101.0,446.3 109.5,445.6 118.9,448.6 127.4,448.8 136.8,452.4 146.3,452.8 155.8,453.8 164.2,452.4 173.7,450.7 182.7,450.3 191.6,446.1 201.0,446.7 210.5,447.7 218.9,446.1 228.4,447.1 237.6,463.2 246.1,468.3 256.1,472.3 265.2,475.3 274.2,473.3 283.3,475.3 292.3,468.3 301.4,468.3 310.4,465.3 319.4,467.9 328.5,467.9 337.9,465.3 346.6,466.3 355.6,469.3 365.1,471.3 374.3,467.9 383.8,469.7 392.8,468.3 401.9,468.3 410.9,470.3 419.9,470.3 429.0,471.3 438.4,474.3 447.7,471.3 457.1,463.8 466.2,458.8 475.1,455.2 484.1,452.2 493.2,451.2 502.2,453.2 511.3,449.6 520.3,446.2 529.7,444.1 539.4,452.2 547.8,450.2 557.1,451.2 566.1,451.8 575.6,456.8 584.6,456.6 593.7,454.8 603.1,453.2 612.2,449.6 621.4,450.8 630.5,451.6 639.5,450.8 648.5,449.6 657.6,452.6 667.0,452.6 676.1,451.4 685.1,449.2 694.2,451.2 703.1,452.4 712.1,450.8 721.8,449.2 731.2,432.7 740.3,433.1 749.3,435.1 758.3,436.7 767.4,436.7 776.4,437.7 785.5,441.1 794.5,441.1 804.0,441.1 813.0,440.5 822.1,441.7 831.3,446.8 840.4,445.4 849.8,447.2 858.8,444.7 867.9,443.3 876.9,444.1 886.0,443.9 896.0,443.3 904.7,440.3 913.7,445.2 923.2,444.1 930.3,445.2 940.7,444.2 951.0,445.4 960.2,445.2 968.2,446.3 977.4,449.1 986.5,450.7 995.7,450.7 1004.9,449.3 1014.1,446.5 1023.3,446.5 1032.4,445.2 1041.6,444.5 1050.8,438.3 1060.0,439.0 1069.2,437.1 1078.3,433.0 1087.0,431.8" fill="none" stroke="#1a35ff" stroke-width="1.15" stroke-linejoin="round" clip-path="url(#cr)"/>
<rect x="5.3" y="423" width="110.5" height="21.6" fill="#1e1e1e" fill-opacity="0.68"/>
<rect x="5.3" y="423" width="2.8" height="21.6" fill="#00ff00"/>
<text x="17.0" y="438.6" font-size="11" font-weight="bold" fill="#ffffff">RSI (14,70,30,1)</text>
<line x1="1124" x2="1128.6" y1="453.0" y2="453.0" stroke="#8a8a8a" stroke-width="1"/>
<text x="1131.2" y="457.3" font-size="10.75" fill="#555555">50.0000</text>
<line x1="1124" x2="1128.6" y1="486.0" y2="486.0" stroke="#8a8a8a" stroke-width="1"/>
<text x="1131.2" y="490.3" font-size="10.75" fill="#555555">0.0000</text>
<text x="0" y="504" font-size="10.8" fill="#555555">Fri</text>
<line x1="36.5" x2="36.5" y1="487.6" y2="489.8" stroke="#7a7a7a" stroke-width="1"/>
<text x="36.5" y="504" font-size="10.8" fill="#555555" text-anchor="middle">02:00</text>
<line x1="73.5" x2="73.5" y1="487.6" y2="489.8" stroke="#7a7a7a" stroke-width="1"/>
<text x="73.5" y="504" font-size="10.8" fill="#555555" text-anchor="middle">03:00</text>
<line x1="109.5" x2="109.5" y1="487.6" y2="489.8" stroke="#7a7a7a" stroke-width="1"/>
<text x="109.5" y="504" font-size="10.8" fill="#555555" text-anchor="middle">04:00</text>
<line x1="146.5" x2="146.5" y1="487.6" y2="489.8" stroke="#7a7a7a" stroke-width="1"/>
<text x="146.5" y="504" font-size="10.8" fill="#555555" text-anchor="middle">05:00</text>
<line x1="182.5" x2="182.5" y1="487.6" y2="489.8" stroke="#7a7a7a" stroke-width="1"/>
<text x="182.5" y="504" font-size="10.8" fill="#555555" text-anchor="middle">06:00</text>
<line x1="219.5" x2="219.5" y1="487.6" y2="489.8" stroke="#7a7a7a" stroke-width="1"/>
<text x="219.5" y="504" font-size="10.8" fill="#555555" text-anchor="middle">07:00</text>
<line x1="255.5" x2="255.5" y1="487.6" y2="489.8" stroke="#7a7a7a" stroke-width="1"/>
<text x="255.5" y="504" font-size="10.8" fill="#555555" text-anchor="middle">08:00</text>
<line x1="292.5" x2="292.5" y1="487.6" y2="489.8" stroke="#7a7a7a" stroke-width="1"/>
<text x="292.5" y="504" font-size="10.8" fill="#555555" text-anchor="middle">09:00</text>
<line x1="329.5" x2="329.5" y1="487.6" y2="489.8" stroke="#7a7a7a" stroke-width="1"/>
<text x="329.5" y="504" font-size="10.8" fill="#555555" text-anchor="middle">10:00</text>
<line x1="365.5" x2="365.5" y1="487.6" y2="489.8" stroke="#7a7a7a" stroke-width="1"/>
<text x="365.5" y="504" font-size="10.8" fill="#555555" text-anchor="middle">11:00</text>
<line x1="402.5" x2="402.5" y1="487.6" y2="489.8" stroke="#7a7a7a" stroke-width="1"/>
<text x="402.5" y="504" font-size="10.8" fill="#555555" text-anchor="middle">12:00</text>
<line x1="438.5" x2="438.5" y1="487.6" y2="489.8" stroke="#7a7a7a" stroke-width="1"/>
<text x="438.5" y="504" font-size="10.8" fill="#555555" text-anchor="middle">13:00</text>
<line x1="475.5" x2="475.5" y1="487.6" y2="489.8" stroke="#7a7a7a" stroke-width="1"/>
<text x="475.5" y="504" font-size="10.8" fill="#555555" text-anchor="middle">14:00</text>
<line x1="511.5" x2="511.5" y1="487.6" y2="489.8" stroke="#7a7a7a" stroke-width="1"/>
<text x="511.5" y="504" font-size="10.8" fill="#555555" text-anchor="middle">15:00</text>
<line x1="548.5" x2="548.5" y1="487.6" y2="489.8" stroke="#7a7a7a" stroke-width="1"/>
<text x="548.5" y="504" font-size="10.8" fill="#555555" text-anchor="middle">16:00</text>
<line x1="584.5" x2="584.5" y1="487.6" y2="489.8" stroke="#7a7a7a" stroke-width="1"/>
<text x="584.5" y="504" font-size="10.8" fill="#555555" text-anchor="middle">17:00</text>
<line x1="621.5" x2="621.5" y1="487.6" y2="489.8" stroke="#7a7a7a" stroke-width="1"/>
<text x="621.5" y="504" font-size="10.8" fill="#555555" text-anchor="middle">18:00</text>
<line x1="657.5" x2="657.5" y1="487.6" y2="489.8" stroke="#7a7a7a" stroke-width="1"/>
<text x="657.5" y="504" font-size="10.8" fill="#555555" text-anchor="middle">19:00</text>
<line x1="694.5" x2="694.5" y1="487.6" y2="489.8" stroke="#7a7a7a" stroke-width="1"/>
<text x="694.5" y="504" font-size="10.8" fill="#555555" text-anchor="middle">20:00</text>
<line x1="731.5" x2="731.5" y1="487.6" y2="489.8" stroke="#7a7a7a" stroke-width="1"/>
<text x="731.5" y="504" font-size="10.8" fill="#555555" text-anchor="middle">Sun</text>
<line x1="804.5" x2="804.5" y1="487.6" y2="489.8" stroke="#7a7a7a" stroke-width="1"/>
<text x="804.5" y="504" font-size="10.8" fill="#555555" text-anchor="middle">Mon</text>
<line x1="840.5" x2="840.5" y1="487.6" y2="489.8" stroke="#7a7a7a" stroke-width="1"/>
<text x="840.5" y="504" font-size="10.8" fill="#555555" text-anchor="middle">01:00</text>
<line x1="877.5" x2="877.5" y1="487.6" y2="489.8" stroke="#7a7a7a" stroke-width="1"/>
<text x="877.5" y="504" font-size="10.8" fill="#555555" text-anchor="middle">02:00</text>
<line x1="913.5" x2="913.5" y1="487.6" y2="489.8" stroke="#7a7a7a" stroke-width="1"/>
<text x="913.5" y="504" font-size="10.8" fill="#555555" text-anchor="middle">03:00</text>
<line x1="950.5" x2="950.5" y1="487.6" y2="489.8" stroke="#7a7a7a" stroke-width="1"/>
<text x="950.5" y="504" font-size="10.8" fill="#555555" text-anchor="middle">04:00</text>
<line x1="986.5" x2="986.5" y1="487.6" y2="489.8" stroke="#7a7a7a" stroke-width="1"/>
<text x="986.5" y="504" font-size="10.8" fill="#555555" text-anchor="middle">05:00</text>
<line x1="1023.5" x2="1023.5" y1="487.6" y2="489.8" stroke="#7a7a7a" stroke-width="1"/>
<text x="1023.5" y="504" font-size="10.8" fill="#555555" text-anchor="middle">06:00</text>
<line x1="1060.5" x2="1060.5" y1="487.6" y2="489.8" stroke="#7a7a7a" stroke-width="1"/>
<text x="1060.5" y="504" font-size="10.8" fill="#555555" text-anchor="middle">07:00</text>
<line x1="1096.5" x2="1096.5" y1="487.6" y2="489.8" stroke="#7a7a7a" stroke-width="1"/>
<text x="1096.5" y="504" font-size="10.8" fill="#555555" text-anchor="middle">08:00</text>
</svg>
</body></html>
